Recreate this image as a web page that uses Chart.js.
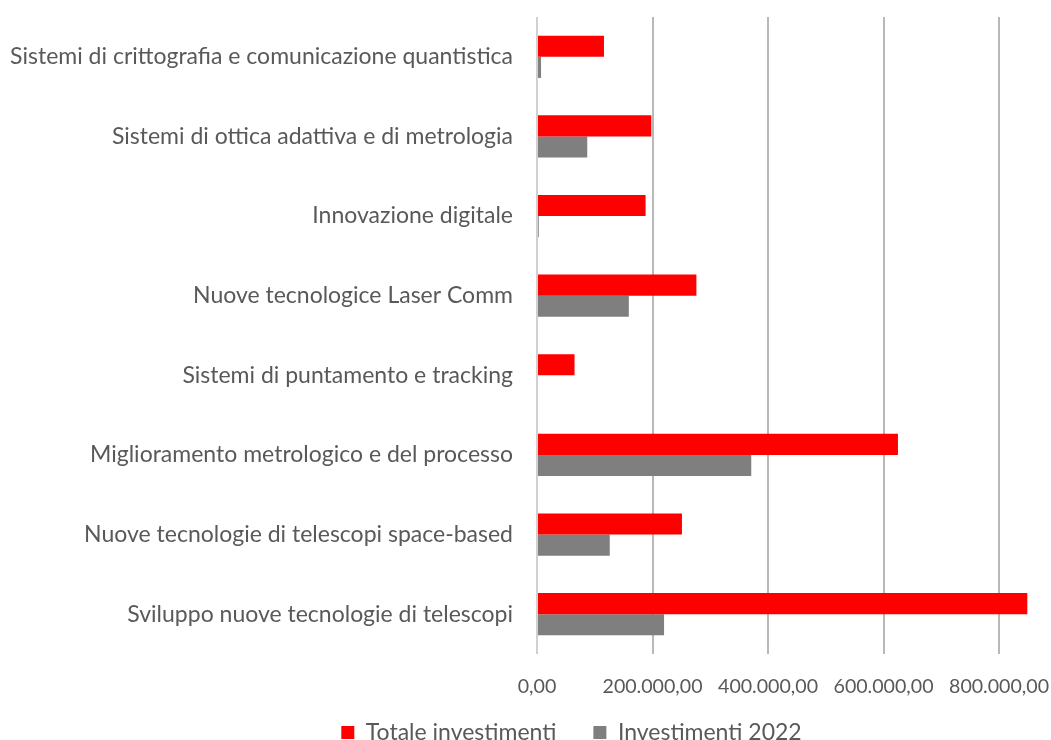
<!DOCTYPE html>
<html><head><meta charset="utf-8">
<script src="https://cdn.jsdelivr.net/npm/chart.js@4/dist/chart.umd.min.js"></script>
<style>html,body{margin:0;padding:0;background:#fff;overflow:hidden}#wrap{width:1051px;height:740px;position:relative}</style>
</head><body><div id="wrap"><canvas id="c" width="1051" height="740"></canvas></div>
<script>
const categories = [
  'Sistemi di crittografia e comunicazione quantistica',
  'Sistemi di ottica adattiva e di metrologia',
  'Innovazione digitale',
  'Nuove tecnologice Laser Comm',
  'Sistemi di puntamento e tracking',
  'Miglioramento metrologico e del processo',
  'Nuove tecnologie di telescopi space-based',
  'Sviluppo nuove tecnologie di telescopi'
];
const totaleInvestimenti = [116000, 198000, 188000, 276000, 65000, 625000, 251000, 849000];
const investimenti2022 = [7000, 87000, 3000, 159000, 0, 371000, 126000, 220000];
const seriesNames = ['Totale investimenti', 'Investimenti 2022'];
const xTickValues = [0, 200000, 400000, 600000, 800000];

function fmtIt(v) {
  const s = Math.round(v).toString().replace(/\B(?=(\d{3})+(?!\d))/g, '.');
  return s + ',00';
}

const FAMILY = 'Lato';
const mctx = document.createElement('canvas').getContext('2d');
mctx.font = '20px ' + FAMILY;
const fs = Math.round(20 * 503 / mctx.measureText(categories[0]).width * 10) / 10;
const fsTick = Math.round(20 * 100 / mctx.measureText(fmtIt(200000)).width * 10) / 10;
const font = {family: FAMILY, size: fs};
const tickFont = {family: FAMILY, size: fsTick};
const txt = '#595959';

const legendShift = {
  id: 'legendShift',
  afterLayout(chart) {
    const lg = chart.legend;
    if (!lg) return;
    lg.left = 92;
    lg.top = 684;
    lg.bottom = 770;
    lg.height = lg.bottom - lg.top;
  }
};

new Chart(document.getElementById('c'), {
  type: 'bar',
  data: {
    labels: categories,
    datasets: [
      {label: seriesNames[0], data: totaleInvestimenti, backgroundColor: '#ff0000', categoryPercentage: 0.53, barPercentage: 1},
      {label: seriesNames[1], data: investimenti2022, backgroundColor: '#7f7f7f', categoryPercentage: 0.53, barPercentage: 1}
    ]
  },
  plugins: [legendShift],
  options: {
    indexAxis: 'y',
    responsive: false,
    animation: false,
    layout: {padding: {left: 0, top: 17, right: 0, bottom: 0}},
    scales: {
      x: {
        min: 0, max: 890000,
        afterBuildTicks: s => { s.ticks = xTickValues.map(v => ({value: v})); },
        afterFit: s => { s.height = 50; s.paddingLeft = 0; s.paddingRight = 0; },
        ticks: {callback: v => fmtIt(v), font: tickFont, color: txt, padding: 21, maxRotation: 0, autoSkip: false},
        grid: {color: c => (c.tick && c.tick.value === 0) ? '#d0d0d0' : '#b8b8b8', lineWidth: 2, drawTicks: false},
        border: {display: false}
      },
      y: {
        afterFit: s => { s.width = 537; s.paddingTop = 0; s.paddingBottom = 0; },
        ticks: {font: font, color: txt, padding: 24, autoSkip: false},
        grid: {display: false, drawTicks: false},
        border: {display: false}
      }
    },
    plugins: {
      legend: {position: 'bottom', maxHeight: 36, labels: {boxWidth: 13, boxHeight: 13, padding: 37, font: font, color: txt}},
      tooltip: {enabled: false}
    }
  }
});
</script></body></html>
